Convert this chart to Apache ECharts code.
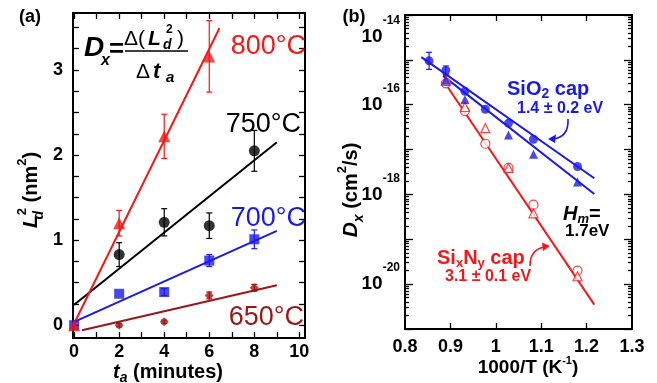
<!DOCTYPE html>
<html>
<head>
<meta charset="utf-8">
<script src="https://cdn.jsdelivr.net/npm/echarts@6/dist/echarts.min.js"></script>
<style>
  html, body { margin: 0; padding: 0; background: #fff; }
  #main { width: 657px; height: 383px; position: absolute; left: 0; top: 0; transform: scale(1); transform-origin: 0 0; }
</style>
</head>
<body>
<div id="main"></div>
<script>
// ---- panel (a): L_d^2 (nm^2) vs anneal time t_a (minutes)
var t800 = [0, 2, 4, 6];
var l800 = [0, 1.2, 2.22, 3.16];
var e800 = [0, 0.15, 0.26, 0.42];
var t750 = [2, 4, 6, 8];
var l750 = [0.83, 1.21, 1.17, 2.05];
var e750 = [0.14, 0.16, 0.15, 0.24];
var t700 = [0, 2, 4, 6, 8];
var l700 = [0, 0.37, 0.39, 0.76, 1.01];
var e700 = [0, 0, 0.04, 0.07, 0.11];
var t650 = [2, 4, 6, 8];
var l650 = [0, 0.04, 0.35, 0.44];
var e650 = [0.02, 0.02, 0.04, 0.04];
// linear fits (end points)
var fit800 = [[0, 0.02], [6.45, 3.49]];
var fit750 = [[0, 0.24], [9, 2.15]];
var fit700 = [[0, 0.04], [9, 1.11]];
var fit650 = [[0.35, -0.06], [9, 0.47]];
var ticksTa = [0, 1, 2, 3, 4, 5, 6, 7, 8, 9, 10];
var labelsTa = [0, 2, 4, 6, 8, 10];
var ticksL2 = [0, 0.25, 0.5, 0.75, 1, 1.25, 1.5, 1.75, 2, 2.25, 2.5, 2.75, 3, 3.25, 3.5];
var labelsL2 = [0, 1, 2, 3];

// ---- panel (b): D_x (cm^2/s) vs 1000/T
var invT = [0.853, 0.890, 0.932, 0.977, 1.028, 1.083, 1.180];
var dSiO2Circ = [9.5e-16, 5.8e-16, 2.0e-16, 7.9e-17, 3.9e-17, 1.7e-17, 4.2e-18];
var eSiO2Circ = [0.19, 0.1, 0, 0, 0, 0, 0]; // decades
var invTTri = [0.890, 0.932, 1.028, 1.083, 1.180];
var dSiO2Tri = [3.5e-16, 1.3e-16, 2.1e-17, 7.9e-18, 1.9e-18];
var eSiO2Tri = [0.12, 0, 0, 0, 0];
var invTSiN = [0.890, 0.932, 0.977, 1.028, 1.083, 1.180];
var dSiNCirc = [3.0e-16, 7.2e-17, 1.35e-17, 3.9e-18, 5.9e-19, 2.0e-20];
var dSiNTri = [3.4e-16, 8.9e-17, 3.0e-17, 3.9e-18, 3.8e-19, 1.5e-20];
var fitSiO2Circ = [[0.836, 1.15e-15], [1.217, 2.3e-18]];
var fitSiO2Tri = [[0.884, 4.4e-16], [1.217, 1.02e-18]];
var fitSiN = [[0.884, 3.5e-16], [1.217, 3.5e-21]];
var ticksInvT = [0.9, 1, 1.1, 1.2];
var labelsInvT = [0.8, 0.9, 1, 1.1, 1.2, 1.3];
var decades = [-21, -20, -19, -18, -17, -16, -15, -14];
var labelsLog = [-20, -18, -16, -14];

var F = 'Liberation Sans, Arial, sans-serif';
var RED = '#f21818', BLUE = '#1a1ae6', DARK = '#9c1616', BLACK = '#000';

var minorLog = [];
for (var i = 0; i < decades.length - 1; i++) {
  for (var k = 2; k <= 9; k++) minorLog.push(decades[i] + Math.log10(k));
}

function pairs(xs, ys) { return xs.map(function (x, i) { return [x, ys[i]]; }); }
function logPairs(pts) { return pts.map(function (p) { return [p[0], Math.log10(p[1])]; }); }
function logVals(ys) { return ys.map(function (v) { return Math.log10(v); }); }

function axis(o) {
  var tick = { show: true, inside: true, length: o.tick, lineStyle: { color: BLACK, width: 1.3 } };
  if (o.ticks) tick.customValues = o.ticks;
  return {
    type: 'value', gridIndex: o.grid, position: o.pos, min: o.min, max: o.max,
    axisLine: { show: true, onZero: false, lineStyle: { color: BLACK, width: 2 } },
    axisTick: tick,
    axisLabel: o.labels ? Object.assign({
      show: true, customValues: o.labels, margin: o.margin,
      fontFamily: F, fontSize: 18, fontWeight: 'bold', color: BLACK
    }, o.labelExtra || {}) : { show: false },
    splitLine: { show: false }
  };
}

function errBars(xi, yi, xs, ys, es, color, capW) {
  return {
    type: 'custom', xAxisIndex: xi, yAxisIndex: yi, z: 3,
    data: xs.map(function (x, i) { return [x, ys[i], es[i]]; }),
    encode: { x: 0, y: 1 },
    renderItem: function (params, api) {
      var x = api.value(0), y = api.value(1), e = api.value(2);
      if (!e) return { type: 'group', children: [] };
      var p1 = api.coord([x, y + e]), p2 = api.coord([x, y - e]);
      var st = { stroke: color, lineWidth: 1.2 };
      return { type: 'group', children: [
        { type: 'line', shape: { x1: p1[0], y1: p1[1], x2: p2[0], y2: p2[1] }, style: st },
        { type: 'line', shape: { x1: p1[0] - capW, y1: p1[1], x2: p1[0] + capW, y2: p1[1] }, style: st },
        { type: 'line', shape: { x1: p2[0] - capW, y1: p2[1], x2: p2[0] + capW, y2: p2[1] }, style: st }
      ] };
    }
  };
}

function fitLine(xi, yi, data, color) {
  return { type: 'line', xAxisIndex: xi, yAxisIndex: yi, data: data, showSymbol: false,
    lineStyle: { color: color, width: 2 }, z: 2 };
}

function dots(xi, yi, data, symbol, size, color, open) {
  return { type: 'scatter', xAxisIndex: xi, yAxisIndex: yi, data: data, symbol: symbol, symbolSize: size,
    itemStyle: open ? { color: '#fff', borderColor: color, borderWidth: 1.2 } : { color: color }, z: 4 };
}

function txt(x, y, text, rich, align, rot) {
  return { type: 'text', x: x, y: y, rotation: rot || 0, z: 10,
    style: { text: text, rich: rich, align: align || 'left', verticalAlign: 'middle' } };
}
function rs(size, color, weight, style, extra) {
  return Object.assign({ fontFamily: F, fontSize: size, fill: color, fontWeight: weight || 'bold', fontStyle: style || 'normal' }, extra || {});
}

var chart = echarts.init(document.getElementById('main'));
chart.setOption({
  animation: false,
  grid: [
    { left: 73, top: 13, width: 232, height: 325 },
    { left: 405, top: 15, width: 227, height: 314 }
  ],
  xAxis: [
    axis({ grid: 0, pos: 'bottom', min: -0.05, max: 10.25, ticks: ticksTa, tick: 6, labels: labelsTa, margin: 5 }),
    axis({ grid: 0, pos: 'top', min: -0.05, max: 10.25, ticks: ticksTa, tick: 6 }),
    axis({ grid: 1, pos: 'bottom', min: 0.8, max: 1.3, ticks: ticksInvT, tick: 6, labels: labelsInvT, margin: 9 }),
    axis({ grid: 1, pos: 'top', min: 0.8, max: 1.3, ticks: ticksInvT, tick: 6 })
  ],
  yAxis: [
    axis({ grid: 0, pos: 'left', min: -0.15, max: 3.67, ticks: ticksL2, tick: 6, labels: labelsL2, margin: 10 }),
    axis({ grid: 0, pos: 'right', min: -0.15, max: 3.67, ticks: ticksL2, tick: 6 }),
    axis({ grid: 1, pos: 'left', min: -21, max: -14, ticks: decades, tick: 8, labels: labelsLog, margin: 5,
      labelExtra: {
        verticalAlignMaxLabel: 'top',
        formatter: function (v) { return '{b|10}{s|' + v + '}'; },
        rich: {
          b: { fontFamily: F, fontSize: 19, fontWeight: 'bold', color: BLACK, lineHeight: 44, verticalAlign: 'middle' },
          s: { fontFamily: F, fontSize: 12, fontWeight: 'bold', color: BLACK, lineHeight: 12, verticalAlign: 'top' }
        }
      } }),
    axis({ grid: 1, pos: 'left', min: -21, max: -14, ticks: minorLog, tick: 4 }),
    axis({ grid: 1, pos: 'right', min: -21, max: -14, ticks: decades, tick: 8 }),
    axis({ grid: 1, pos: 'right', min: -21, max: -14, ticks: minorLog, tick: 4 })
  ],
  series: [
    // panel (a)
    fitLine(0, 0, fit650, DARK),
    fitLine(0, 0, fit700, BLUE),
    fitLine(0, 0, fit750, BLACK),
    fitLine(0, 0, fit800, RED),
    errBars(0, 0, t650, l650, e650, DARK, 3),
    errBars(0, 0, t700, l700, e700, BLUE, 3),
    errBars(0, 0, t750, l750, e750, BLACK, 3),
    errBars(0, 0, t800, l800, e800, RED, 3),
    dots(0, 0, pairs(t650, l650), 'diamond', 9, DARK),
    dots(0, 0, pairs(t700, l700), 'rect', 10, BLUE),
    dots(0, 0, pairs(t750, l750), 'circle', 11, BLACK),
    dots(0, 0, pairs(t800, l800), 'triangle', 12, RED),
    // panel (b)
    fitLine(2, 2, logPairs(fitSiN), RED),
    fitLine(2, 2, logPairs(fitSiO2Tri), BLUE),
    fitLine(2, 2, logPairs(fitSiO2Circ), BLUE),
    errBars(2, 2, invT, logVals(dSiO2Circ), eSiO2Circ, BLUE, 3),
    errBars(2, 2, invTTri, logVals(dSiO2Tri), eSiO2Tri, BLUE, 3),
    dots(2, 2, pairs(invTSiN, logVals(dSiNCirc)), 'circle', 9, RED, true),
    dots(2, 2, pairs(invTSiN, logVals(dSiNTri)), 'triangle', 9, RED, true),
    dots(2, 2, pairs(invTTri, logVals(dSiO2Tri)), 'triangle', 9, BLUE),
    dots(2, 2, pairs(invT, logVals(dSiO2Circ)), 'circle', 9, BLUE)
  ],
  graphic: [
    // plot frames (same place as the axis lines)
    { type: 'rect', z: 1, shape: { x: 73, y: 13, width: 232, height: 325 }, style: { fill: null, stroke: BLACK, lineWidth: 2 } },
    { type: 'rect', z: 1, shape: { x: 405, y: 15, width: 227, height: 314 }, style: { fill: null, stroke: BLACK, lineWidth: 2 } },
    txt(30, 17, '{a|(a)}', { a: rs(18, BLACK) }, 'center'),
    txt(354, 17, '{a|(b)}', { a: rs(18, BLACK) }, 'center'),
    // formula
    txt(84, 48, '{a|D}', { a: rs(28, BLACK, 'bold', 'italic') }),
    txt(101, 61, '{a|x}', { a: rs(16, BLACK, 'bold', 'italic') }),
    txt(109, 50, '{a|=}', { a: rs(26, BLACK) }),
    txt(124, 39, '{a|\u0394(}', { a: rs(21, BLACK, 'normal') }),
    txt(148, 39, '{a|L}', { a: rs(21, BLACK, 'bold', 'italic') }),
    txt(163, 45, '{a|d}', { a: rs(14, BLACK, 'bold', 'italic') }),
    txt(166, 30, '{a|2}', { a: rs(12, BLACK, 'bold') }),
    txt(177, 39, '{a|)}', { a: rs(21, BLACK, 'normal') }),
    { type: 'line', z: 10, shape: { x1: 125, y1: 51, x2: 188, y2: 51 }, style: { stroke: BLACK, lineWidth: 1.5 } },
    txt(136, 72, '{a|\u0394}', { a: rs(21, BLACK, 'normal') }),
    txt(153, 72, '{a|t}', { a: rs(22, BLACK, 'bold', 'italic') }),
    txt(166, 78, '{a|a}', { a: rs(15, BLACK, 'bold', 'italic') }),
    // temperature labels
    txt(306, 47, '{a|800\u00b0C}', { a: rs(27, RED, 'normal') }, 'right'),
    txt(301, 125, '{a|750\u00b0C}', { a: rs(27, BLACK, 'normal') }, 'right'),
    txt(306, 219, '{a|700\u00b0C}', { a: rs(27, BLUE, 'normal') }, 'right'),
    txt(304, 318, '{a|650\u00b0C}', { a: rs(27, DARK, 'normal') }, 'right'),
    // axis titles (a)
    txt(31, 190, '{L|L}{d|d}{s|2}{m| (nm}{s|2}{m|)}', {
      L: rs(21, BLACK, 'bold', 'italic', { lineHeight: 30, verticalAlign: 'middle' }),
      d: rs(14, BLACK, 'bold', 'italic', { lineHeight: 14, verticalAlign: 'bottom', width: 0 }),
      s: rs(13, BLACK, 'bold', 'normal', { lineHeight: 13, verticalAlign: 'top' }),
      m: rs(20, BLACK, 'bold', 'normal', { lineHeight: 30, verticalAlign: 'middle' })
    }, 'center', Math.PI / 2),
    txt(168, 372, '{t|t}{a|a}{m| (minutes)}', {
      t: rs(20, BLACK, 'bold', 'italic', { lineHeight: 26, verticalAlign: 'middle' }),
      a: rs(14, BLACK, 'bold', 'italic', { lineHeight: 14, verticalAlign: 'bottom' }),
      m: rs(20, BLACK, 'bold', 'normal', { lineHeight: 26, verticalAlign: 'middle' })
    }, 'center'),
    // axis titles (b)
    txt(351, 190, '{D|D}{x|x}{m| (cm}{s|2}{m|/s)}', {
      D: rs(21, BLACK, 'bold', 'italic', { lineHeight: 30, verticalAlign: 'middle' }),
      x: rs(14, BLACK, 'bold', 'italic', { lineHeight: 14, verticalAlign: 'bottom' }),
      s: rs(13, BLACK, 'bold', 'normal', { lineHeight: 13, verticalAlign: 'top' }),
      m: rs(20, BLACK, 'bold', 'normal', { lineHeight: 30, verticalAlign: 'middle' })
    }, 'center', Math.PI / 2),
    txt(528, 368, '{m|1000/T (K}{s|-1}{m|)}', {
      m: rs(19, BLACK, 'bold', 'normal', { lineHeight: 26, verticalAlign: 'middle' }),
      s: rs(11, BLACK, 'bold', 'normal', { lineHeight: 11, verticalAlign: 'top' })
    }, 'center'),
    // annotations (b)
    txt(507, 89, '{m|SiO}{s|2}{m| cap}', {
      m: rs(20, BLUE, 'bold', 'normal', { lineHeight: 24, verticalAlign: 'middle' }),
      s: rs(14, BLUE, 'bold', 'normal', { lineHeight: 14, verticalAlign: 'bottom' })
    }),
    txt(517, 109, '{a|1.4 \u00b1 0.2 eV}', { a: rs(16, BLUE) }),
    txt(563, 214, '{H|H}{s|m}{e|=}', {
      H: rs(20, BLACK, 'bold', 'italic', { lineHeight: 24, verticalAlign: 'middle' }),
      s: rs(13, BLACK, 'bold', 'italic', { lineHeight: 13, verticalAlign: 'bottom' }),
      e: rs(20, BLACK, 'bold', 'normal', { lineHeight: 24, verticalAlign: 'middle' })
    }),
    txt(565, 231, '{a|1.7eV}', { a: rs(17, BLACK) }),
    txt(437, 258, '{m|Si}{s|x}{m|N}{s|y}{m| cap}', {
      m: rs(20, RED, 'bold', 'normal', { lineHeight: 24, verticalAlign: 'middle' }),
      s: rs(13, RED, 'bold', 'normal', { lineHeight: 13, verticalAlign: 'bottom' })
    }),
    txt(445, 277, '{a|3.1 \u00b1 0.1 eV}', { a: rs(16, RED) }),
    // curved arrows
    { type: 'bezierCurve', z: 10, shape: { x1: 568, y1: 119, cpx1: 569, cpy1: 137, x2: 553, y2: 139 },
      style: { stroke: BLUE, lineWidth: 1.6, fill: null } },
    { type: 'polygon', z: 10, shape: { points: [[548, 139], [556, 134.5], [555, 143]] }, style: { fill: BLUE } },
    { type: 'bezierCurve', z: 10, shape: { x1: 530, y1: 266, cpx1: 530, cpy1: 249, x2: 545, y2: 247 },
      style: { stroke: RED, lineWidth: 1.6, fill: null } },
    { type: 'polygon', z: 10, shape: { points: [[550, 246], [542, 242.5], [543, 251]] }, style: { fill: RED } }
  ]
});
</script>
</body>
</html>
